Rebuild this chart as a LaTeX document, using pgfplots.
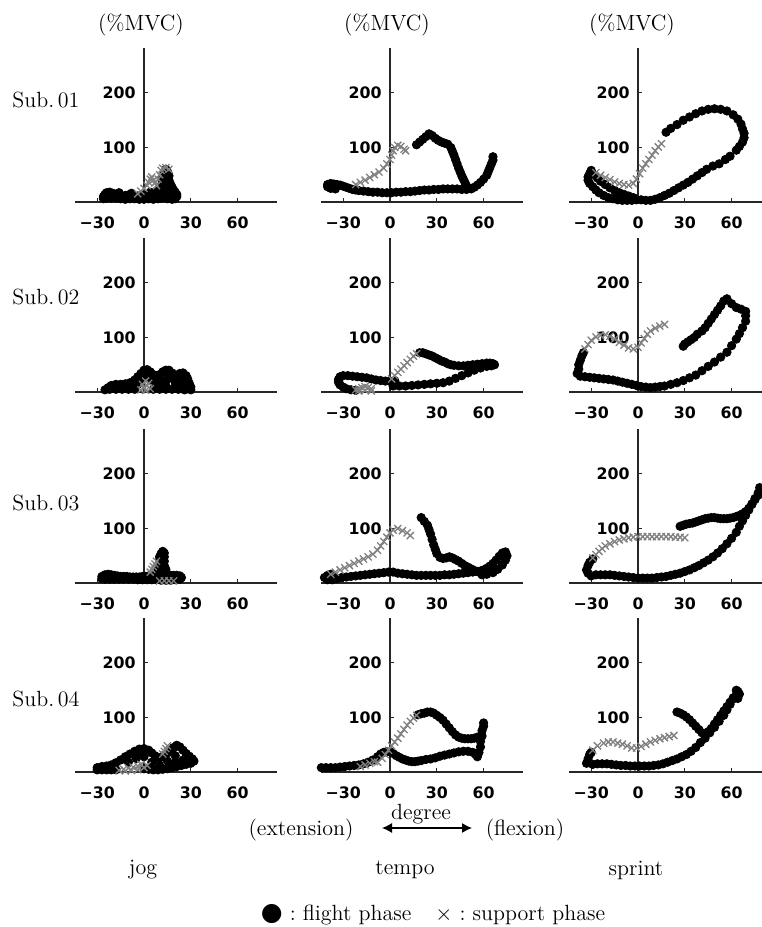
\documentclass[border=0pt]{standalone}
\usepackage{fontspec}
\usepackage{pgfplots}
\pgfplotsset{compat=1.18}
\usetikzlibrary{arrows.meta}
\newfontfamily\tickfont{DejaVu Sans}
\newfontfamily\symfont{DejaVu Sans}

\pgfplotsset{
 panel/.style={
  anchor=origin, x=0.78pt, y=0.2725pt, xmin=-44, xmax=85, ymin=0, ymax=282,
  axis lines=middle, axis line style={-, line width=0.65pt, black!85},
  xtick={-30,0,30,60}, xticklabels={−30,0,30,60},
  ytick={100,200}, yticklabels={100,200},
  hide obscured x ticks=false, hide obscured y ticks=false,
  tick align=inside, major tick length=2pt, tick style={black!85, line width=0.5pt},
  tick label style={font=\tickfont\bfseries\fontsize{7.9}{8}\selectfont},
  xticklabel style={yshift=-3.6pt},
  yticklabel style={xshift=-0.3pt},
  clip=false,
 },
 flight/.style={only marks, mark=*, mark size=2.1pt, black},
 support/.style={only marks, mark=x, mark size=2.5pt, black!50, mark options={line width=0.65pt}},
}

\begin{document}
\begin{tikzpicture}
\useasboundingbox (0,0) rectangle (380.5pt,463.5pt);
\fontsize{11}{13}\selectfont

% ---------- Row 1: Sub. 01 ----------
\begin{axis}[panel, at={(72pt,362.5pt)}]
\addplot[flight] coordinates {(-26,10) (-25,14) (-24,17) (-22,18) (-20,16) (-18,14) (-16,12) (-14,11) (-12,12) (-10,13) (-8,11) (-6,10) (-4,11) (-2,12) (0,12) (2,13) (4,15) (6,17) (8,20) (10,24) (11,30) (12,38) (12,46) (13,54) (14,60) (15,56) (16,48) (16,40) (17,33) (18,27) (19,22) (20,18) (21,14) (21,10) (20,6) (18,5) (15,6) (13,8) (11,7) (9,6) (6,5) (3,6) (0,5) (-3,5) (-6,6) (-9,6) (-12,5) (-15,6) (-18,7) (-21,7) (-24,7) (-26,6) (17,20) (19,14) (14,12) (16,25) (12,28) (14,20) (-22,12) (-18,10) (-14,8) (-10,9) (-6,8) (-2,8) (2,9) (6,11) (9,12) (12,15) (15,18) (18,20) (20,16) (-20,12) (8,8) (-16,17) (-8,16) (4,18) (10,18)};
\addplot[support] coordinates {(-4,15) (-2,20) (0,25) (2,30) (3,36) (4,42) (5,46) (6,40) (7,35) (8,30) (9,42) (10,50) (11,58) (12,62) (14,63) (16,60)};
\end{axis}

\begin{axis}[panel, at={(195pt,362.5pt)}]
\addplot[flight] coordinates {(-40,32) (-38,34) (-36,33) (-34,32) (-32,31) (-30,29) (-28,27) (-26,25) (-24,23) (-22,22) (-40,28) (-37,29) (-38,25) (-35,24) (-20,21) (-17,20) (-14,19) (-11,18) (-8,18) (-5,17) (-2,17) (1,17) (4,18) (7,18) (10,19) (13,19) (16,20) (19,21) (22,22) (25,22) (28,23) (31,23) (34,24) (37,24) (40,24) (43,24) (46,23) (49,23) (52,24) (54,27) (56,31) (58,36) (60,42) (62,49) (63,56) (64,63) (65,70) (66,77) (66,83) (17,105) (19,110) (21,115) (23,120) (25,125) (27,122) (29,117) (31,113) (33,110) (35,108) (37,106) (39,100) (40,93) (41,86) (42,78) (43,70) (44,62) (45,55) (46,48) (47,42) (48,36) (49,30) (50,26)};
\addplot[support] coordinates {(-22,32) (-19,36) (-16,40) (-13,45) (-10,50) (-7,55) (-4,62) (-2,70) (0,78) (1,86) (2,94) (3,100) (5,104) (7,102) (9,97) (10,94)};
\end{axis}

\begin{axis}[panel, at={(319pt,362.5pt)}]
\addplot[flight] coordinates {(-30,58) (-31,52) (-32,46) (-32,40) (-31,34) (-29,28) (-27,22) (-25,17) (-22,12) (-19,8) (-16,6) (-13,4) (-10,3) (-7,3) (-4,3) (-1,4) (2,4) (5,3) (8,3) (11,5) (14,8) (17,12) (20,16) (23,21) (26,26) (29,31) (32,36) (35,42) (38,48) (41,54) (44,60) (48,66) (52,70) (56,78) (59,84) (63,95) (65,102) (67,110) (68,118) (68,126) (67,134) (66,143) (64,152) (61,160) (57,167) (53,170) (49,171) (45,170) (41,167) (37,162) (33,156) (29,150) (25,142) (21,135) (18,128) (-28,50) (-26,44) (-24,38) (-21,32) (-18,26) (-15,21) (-12,17) (-9,14) (-6,11) (-3,8)};
\addplot[support] coordinates {(-27,54) (-24,49) (-21,45) (-18,41) (-15,37) (-12,34) (-9,32) (-6,31) (-3,34) (-1,42) (1,52) (3,62) (5,70) (7,78) (9,86) (11,94) (13,101) (15,107)};
\end{axis}

% ---------- Row 2: Sub. 02 ----------
\begin{axis}[panel, at={(72pt,267.5pt)}]
\addplot[flight] coordinates {(-25,4) (-23,8) (-21,12) (-18,14) (-15,14) (-12,15) (-9,17) (-6,22) (-4,28) (-2,34) (0,40) (2,41) (4,37) (6,32) (8,30) (10,32) (12,37) (14,40) (16,40) (18,35) (19,30) (21,30) (23,34) (25,35) (27,30) (28,24) (29,16) (30,9) (30,4) (26,4) (22,5) (18,5) (14,5) (10,5) (6,5) (-6,5) (-10,5) (-14,5) (-18,5) (-22,5) (-4,14) (-2,22) (5,22) (8,16) (12,20) (16,25) (20,18) (24,22) (27,14) (-10,10) (14,12) (24,10) (1,30) (4,28) (15,32) (24,28) (-7,12) (10,24) (20,10)};
\addplot[support] coordinates {(-2,4) (0,8) (2,12) (3,16) (1,20) (-1,14) (4,6) (1,3)};
\end{axis}

\begin{axis}[panel, at={(195pt,267.5pt)}]
\addplot[flight] coordinates {(-32,28) (-30,30) (-27,30) (-24,29) (-21,28) (-18,27) (-15,26) (-12,24) (-9,22) (-6,21) (-3,20) (0,20) (3,21) (-33,23) (-33,18) (-32,13) (-30,9) (-28,6) (-25,4) (-22,3) (2,11) (6,11) (10,11) (14,12) (18,13) (22,14) (26,15) (30,16) (34,17) (38,20) (42,25) (46,30) (50,35) (54,40) (58,44) (19,72) (21,72) (23,70) (25,68) (27,66) (29,63) (31,60) (33,57) (35,55) (37,52) (39,50) (41,49) (44,48) (47,48) (50,49) (53,50) (56,51) (59,52) (62,53) (64,53) (66,52) (67,50) (65,48) (62,47)};
\addplot[support] coordinates {(1,24) (3,30) (5,36) (7,42) (9,48) (11,54) (13,60) (15,66) (17,70) (-22,4) (-20,6) (-18,8) (-16,10) (-14,8) (-12,6) (-20,2) (-16,3) (-12,2)};
\end{axis}

\begin{axis}[panel, at={(319pt,267.5pt)}]
\addplot[flight] coordinates {(-39,34) (-38,42) (-38,50) (-37,58) (-36,66) (-35,72) (-37,29) (-34,28) (-31,27) (-28,26) (-25,25) (-22,24) (-19,23) (-16,22) (-13,20) (-10,18) (-7,16) (-4,14) (-1,12) (2,10) (5,9) (8,8) (11,9) (14,10) (17,11) (21,14) (25,17) (29,21) (33,26) (37,31) (41,39) (45,47) (49,55) (53,64) (57,73) (60,85) (63,97) (65,107) (67,118) (69,130) (69,140) (69,148) (66,152) (63,155) (60,162) (57,171) (55,167) (53,158) (51,150) (49,142) (47,134) (45,126) (43,118) (41,112) (38,106) (36,100) (34,96) (32,92) (30,88) (29,84)};
\addplot[support] coordinates {(-34,79) (-32,87) (-30,95) (-27,101) (-24,104) (-21,105) (-18,102) (-15,97) (-12,91) (-9,86) (-6,81) (-3,79) (0,82) (2,90) (4,98) (6,106) (8,112) (11,117) (14,121) (17,124)};
\end{axis}

% ---------- Row 3: Sub. 03 ----------
\begin{axis}[panel, at={(72pt,172pt)}]
\addplot[flight] coordinates {(-27,12) (-25,15) (-23,16) (-21,15) (-19,14) (-17,13) (-15,12) (-13,12) (-11,12) (-9,11) (-7,11) (-5,11) (-3,11) (-1,12) (1,12) (3,13) (5,13) (7,14) (9,15) (11,16) (13,15) (15,14) (17,14) (19,14) (21,14) (23,13) (24,10) (23,7) (20,6) (17,5) (14,5) (11,5) (8,6) (5,6) (2,6) (-1,6) (-4,6) (-7,7) (-10,7) (-13,7) (-16,7) (-19,7) (-22,7) (-25,7) (-27,8) (9,18) (9,24) (10,30) (10,36) (10,42) (10,48) (11,54) (12,58) (13,55) (13,48) (13,40) (13,32) (14,25) (14,18) (12,22) (11,28)};
\addplot[support] coordinates {(4,20) (5,25) (6,30) (7,35) (8,40) (10,4) (13,4) (16,4) (19,4)};
\end{axis}

\begin{axis}[panel, at={(195pt,172pt)}]
\addplot[flight] coordinates {(-42,10) (-40,14) (-38,16) (-36,12) (-40,6) (-37,6) (-34,8) (-31,10) (-28,11) (-25,12) (-22,13) (-19,14) (-16,15) (-13,16) (-10,17) (-7,18) (-4,19) (-1,20) (2,20) (5,18) (8,17) (11,16) (14,15) (17,14) (20,14) (23,14) (26,14) (29,14) (32,14) (35,15) (38,15) (41,16) (44,17) (47,18) (50,19) (53,20) (56,21) (20,120) (22,113) (24,106) (25,98) (26,90) (27,80) (28,70) (29,62) (30,54) (32,47) (34,45) (36,46) (38,48) (40,46) (42,43) (44,40) (46,36) (48,32) (50,29) (52,26) (54,23) (56,21) (58,22) (60,24) (62,27) (64,31) (66,36) (68,42) (70,49) (72,55) (74,57) (75,50) (74,42) (72,33) (69,25) (66,19) (62,16) (59,15)};
\addplot[support] coordinates {(-38,16) (-35,20) (-32,24) (-29,28) (-26,32) (-23,36) (-20,40) (-17,44) (-14,48) (-11,53) (-8,60) (-6,68) (-4,76) (-2,84) (0,92) (2,97) (5,100) (8,96) (11,92) (13,87)};
\end{axis}

\begin{axis}[panel, at={(319pt,172pt)}]
\addplot[flight] coordinates {(-33,24) (-32,32) (-31,38) (-29,44) (-32,18) (-30,13) (-27,15) (-24,15) (-21,15) (-18,15) (-15,14) (-12,13) (-9,12) (-6,11) (-3,10) (0,9) (3,9) (6,9) (9,9) (12,10) (15,11) (18,12) (21,14) (24,16) (27,18) (30,21) (33,24) (36,28) (39,32) (42,37) (45,42) (48,48) (51,55) (54,63) (57,72) (60,82) (63,93) (65,104) (67,114) (69,124) (71,134) (73,144) (75,155) (77,165) (78,175) (27,104) (29,106) (31,108) (33,109) (35,110) (37,112) (39,114) (41,116) (43,118) (45,119) (47,120) (49,120) (51,119) (53,118) (55,118) (57,118) (59,119) (61,120) (63,122) (65,124) (67,127) (69,131) (71,137) (73,145) (75,153) (77,161) (78,168)};
\addplot[support] coordinates {(-29,46) (-27,52) (-25,58) (-23,63) (-21,68) (-18,72) (-15,76) (-12,79) (-9,81) (-6,83) (-3,84) (0,85) (3,85) (6,85) (9,85) (12,85) (15,85) (18,85) (21,85) (24,84) (27,84) (30,83)};
\end{axis}

% ---------- Row 4: Sub. 04 ----------
\begin{axis}[panel, at={(72pt,77.5pt)}]
\addplot[flight] coordinates {(-30,8) (-27,10) (-24,11) (-21,13) (-18,17) (-15,22) (-12,28) (-9,33) (-6,38) (-3,42) (0,43) (3,40) (5,35) (7,30) (9,26) (11,27) (13,31) (15,35) (17,40) (19,45) (21,49) (23,46) (25,40) (27,34) (29,29) (31,24) (32,20) (30,16) (27,14) (24,12) (21,10) (18,8) (15,6) (12,5) (9,4) (6,4) (3,5) (0,6) (-18,4) (-21,4) (-24,4) (-27,4) (-30,4) (-10,18) (-5,25) (0,28) (20,30) (25,22) (15,20) (5,18) (10,12) (20,18) (-2,35)};
\addplot[support] coordinates {(-16,3) (-13,5) (-10,7) (-7,9) (-4,11) (-2,14) (-12,2) (-8,3) (-4,4) (0,8) (2,12) (12,33) (13,38) (14,43) (15,48)};
\end{axis}

\begin{axis}[panel, at={(195pt,77.5pt)}]
\addplot[flight] coordinates {(-44,8) (-41,8) (-38,8) (-35,8) (-32,9) (-29,10) (-26,11) (-23,12) (-20,13) (-17,15) (-14,18) (-11,22) (-8,28) (-6,33) (-4,36) (-2,37) (0,37) (2,34) (4,30) (6,27) (8,24) (10,22) (12,20) (14,19) (16,19) (18,20) (20,21) (23,23) (26,24) (29,26) (32,29) (35,31) (38,33) (41,35) (44,37) (47,38) (50,38) (53,36) (55,32) (56,28) (57,36) (58,46) (58,56) (59,66) (59,76) (60,84) (60,90) (18,105) (20,107) (22,108) (24,110) (26,110) (28,108) (30,104) (32,100) (34,95) (36,88) (38,81) (40,74) (42,68) (44,64) (46,62) (48,61) (50,61) (52,61) (54,62) (56,64)};
\addplot[support] coordinates {(-19,10) (-16,13) (-13,16) (-10,19) (-8,18) (-5,25) (-3,32) (-1,40) (1,48) (3,55) (5,62) (7,70) (9,78) (11,86) (13,93) (15,99) (17,104)};
\end{axis}

\begin{axis}[panel, at={(319pt,77.5pt)}]
\addplot[flight] coordinates {(-33,16) (-32,24) (-31,32) (-30,36) (-29,14) (-26,15) (-23,15) (-20,15) (-17,14) (-14,13) (-11,12) (-8,12) (-5,11) (-2,11) (1,11) (4,11) (7,11) (10,12) (13,13) (16,15) (19,18) (22,21) (25,24) (28,28) (31,32) (34,38) (37,45) (40,54) (43,62) (46,72) (49,82) (52,93) (55,104) (57,114) (59,124) (61,134) (63,142) (64,148) (65,143) (64,135) (25,110) (27,108) (29,105) (31,101) (33,96) (35,90) (37,84) (39,78) (41,72) (43,70) (45,74) (47,80) (49,88) (51,96) (53,104) (55,112) (57,120) (59,128) (61,136) (63,150)};
\addplot[support] coordinates {(-29,40) (-26,48) (-22,53) (-19,55) (-16,55) (-13,53) (-10,51) (-7,48) (-4,44) (-1,44) (2,47) (5,51) (8,55) (11,58) (14,61) (17,63) (20,65) (23,67)};
\end{axis}

% ---------- texts ----------
\node at (70.5pt,451pt) {(\%MVC)};
\node at (193.5pt,451pt) {(\%MVC)};
\node at (316pt,451pt) {(\%MVC)};
\node[anchor=west, inner sep=0] at (6pt,413.5pt) {Sub.\,01};
\node[anchor=west, inner sep=0] at (6pt,315pt) {Sub.\,02};
\node[anchor=west, inner sep=0] at (6pt,212pt) {Sub.\,03};
\node[anchor=west, inner sep=0] at (6pt,114pt) {Sub.\,04};

\node at (150.5pt,48.5pt) {(extension)};
\node at (210.5pt,56.5pt) {degree};
\draw[{Latex[length=5pt,width=5pt]}-{Latex[length=5pt,width=5pt]}, line width=0.6pt] (191pt,49.5pt) -- (236pt,49.5pt);
\node at (262.5pt,48.5pt) {(flexion)};

\node at (71.5pt,28.5pt) {jog};
\node at (202.5pt,28.5pt) {tempo};
\node at (318pt,28.5pt) {sprint};

\node[inner sep=0] at (216.5pt,6pt) {{\symfont\fontsize{12.5}{13}\selectfont ●}\ :\ flight phase\hspace{12pt}$\times$\ :\ support phase};
\end{tikzpicture}
\end{document}
